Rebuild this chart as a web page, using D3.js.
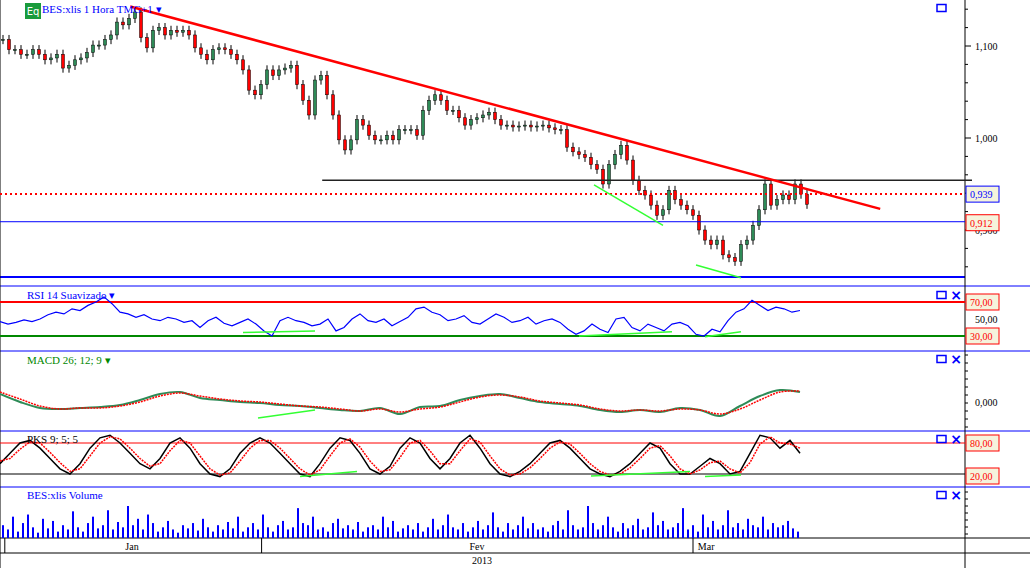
<!DOCTYPE html>
<html><head><meta charset="utf-8">
<script src="https://cdn.jsdelivr.net/npm/d3@7"></script>
<style>body{margin:0;background:#fff}svg{display:block;font-family:"Liberation Serif",serif}</style>
</head><body><div id="chart"></div>
<script>
// closes, one per bar (6px bars)
const closes = [1.107,1.096,1.096,1.091,1.091,1.096,1.091,1.085,1.087,1.091,1.076,1.079,1.085,1.087,1.093,1.101,1.101,1.107,1.112,1.126,1.123,1.130,1.137,1.109,1.098,1.117,1.120,1.112,1.117,1.115,1.117,1.112,1.098,1.091,1.085,1.096,1.098,1.096,1.091,1.085,1.074,1.052,1.047,1.058,1.074,1.068,1.074,1.076,1.079,1.058,1.041,1.025,1.063,1.068,1.047,1.025,0.998,0.987,0.998,1.020,1.014,1.003,0.998,0.998,1.003,0.998,1.009,1.009,1.009,1.003,1.030,1.041,1.047,1.041,1.030,1.030,1.022,1.014,1.020,1.022,1.025,1.028,1.020,1.014,1.014,1.012,1.013,1.014,1.012,1.013,1.014,1.011,1.009,1.009,0.990,0.985,0.982,0.979,0.971,0.966,0.950,0.971,0.982,0.992,0.976,0.954,0.943,0.938,0.927,0.916,0.922,0.943,0.933,0.927,0.922,0.916,0.900,0.889,0.884,0.889,0.873,0.870,0.866,0.884,0.889,0.905,0.922,0.950,0.927,0.933,0.938,0.933,0.950,0.939,0.928];
const rsi = [47,44,46,49,47,50,55,58,56,62,60,66,70,76,68,58,56,52,55,50,48,52,50,46,48,40,48,52,45,42,46,50,44,36,30,48,52,48,46,42,44,50,36,40,50,56,48,46,50,42,47,52,62,64,58,55,48,50,54,46,44,50,56,52,46,48,52,44,48,50,46,38,32,36,44,38,34,50,52,40,36,44,40,36,44,46,42,32,30,38,35,48,58,62,72,66,60,64,62,58,60];
const macd = [8,0,-6,-7,-6,-5,-3,2,8,10,4,2,0,-1,-3,-4,-6,-8,-9,-6,-12,-5,-4,2,6,8,4,0,-2,-4,-8,-10,-8,-10,-6,-8,-14,-4,6,12,10];
const signal = [10,3,-4,-7,-6,-6,-4,0,6,9,6,3,1,0,-2,-4,-5,-7,-9,-7,-10,-7,-5,0,5,7,5,1,-1,-3,-7,-9,-8,-9,-7,-8,-12,-7,2,10,11];
const pksK = [40,60,80,85,70,50,30,20,40,70,90,95,80,60,40,30,50,80,90,70,40,20,15,30,60,80,90,80,60,40,20,15,40,70,90,85,60,30,20,35,70,90,80,50,30,50,80,95,70,40,20,15,25,40,60,80,85,70,50,30,20,15,25,40,60,80,70,40,20,20,35,50,40,20,25,60,95,90,70,85,60];
const pksD = [45,50,68,82,80,62,42,25,30,55,80,92,88,70,50,35,40,65,85,80,55,30,18,22,45,70,85,85,70,50,30,18,28,55,80,88,72,45,25,28,52,80,85,65,40,40,65,88,82,55,30,18,20,32,50,70,82,78,60,40,25,18,20,32,50,70,75,55,30,20,28,42,45,30,22,42,78,92,80,78,70];
const volume = [12,8,20,6,14,22,10,5,18,9,16,6,12,8,25,10,6,14,20,9,12,26,8,15,10,30,12,18,8,22,14,6,10,16,8,5,12,9,14,7,18,10,6,12,8,15,9,20,6,10,14,8,22,10,6,12,16,8,10,28,14,12,20,8,10,6,14,18,9,12,8,15,6,10,12,8,20,10,16,6,9,12,8,14,6,10,18,8,12,22,10,8,14,6,10,16,8,12,24,10,6,14,8,12,20,9,14,8,10,6,12,16,8,26,12,8,10,30,14,8,12,20,10,6,14,9,12,18,8,10,24,12,16,8,10,14,28,8,12,6,22,10,16,8,12,26,10,14,8,18,12,10,20,8,14,10,12,16,9,6];
const dateTicks = [{label:"Jan", x:22, sep:0.8}, {label:"Fev", x:79.5, sep:43.6}, {label:"Mar", x:117.7, sep:115.5}];
const trend = [[21.7,1.143],[146.7,0.923]];
const support = [[53.7,0.954],[162,0.954]];
const priceDivs = [[[99,0.949],[110.5,0.905]],[[116,0.862],[123.5,0.848]]];
const rsiDivs = [[[40.5,34],[52.5,36]],[[96.5,30],[112,35]],[[117.5,29],[123.5,35]]];
const macdDivs = [[[43,-16],[52.5,-8]]];
const pksDivs = [[[50,15],[59.5,25]],[[98.5,16],[115,25]],[[117.5,15],[123.5,18]]];

const W = 1030, H = 568, axisX = 965;
const svg = d3.select("#chart").append("svg").attr("width", W).attr("height", H);
const x = d3.scaleLinear().domain([0, 1]).range([0, 6]); // bar index -> px
const xi = d3.scaleLinear().domain([0, 1]).range([0, 8]); // rsi index
const yP = d3.scaleLinear().domain([0.9, 1.1]).range([230, 46]);
const yR = d3.scaleLinear().domain([30, 70]).range([336, 302]);
const yM = d3.scaleLinear().domain([-20, 20]).range([422, 382]);
const yK = d3.scaleLinear().domain([20, 80]).range([474, 443]);
const yV = d3.scaleLinear().domain([0, 30]).range([538, 506]);
const line = (xs, ys) => d3.line().x(d => xs(d[0])).y(d => ys(d[1]));

// panel borders
[286, 351, 431, 487, 538, 553].forEach(y => svg.append("line").attr("x1", 0).attr("x2", W).attr("y1", y).attr("y2", y)
  .attr("stroke", y >= 538 ? "#000" : "#00f"));
svg.append("line").attr("x1", 0).attr("x2", axisX).attr("y1", 277).attr("y2", 277).attr("stroke", "#00f").attr("stroke-width", 2);
svg.append("line").attr("x1", axisX).attr("x2", axisX).attr("y1", 0).attr("y2", 568).attr("stroke", "#000");
svg.append("line").attr("x1", 0).attr("x2", 0).attr("y1", 0).attr("y2", 568).attr("stroke", "#000");

// price candles
const bars = closes.map((c, i) => {
  const o = i ? closes[i - 1] : c;
  return { i, o, c, h: Math.max(o, c) + 0.005, l: Math.min(o, c) - 0.005 };
});
const g = svg.append("g");
g.selectAll("line.w").data(bars).join("line").attr("x1", d => x(d.i) + 3).attr("x2", d => x(d.i) + 3)
  .attr("y1", d => yP(d.h)).attr("y2", d => yP(d.l)).attr("stroke", "#000");
g.selectAll("rect").data(bars).join("rect").attr("x", d => x(d.i) + 1.5).attr("width", 3)
  .attr("y", d => yP(Math.max(d.o, d.c))).attr("height", d => Math.max(1, Math.abs(yP(d.o) - yP(d.c))))
  .attr("fill", d => d.c >= d.o ? "#2e8b57" : "#f00").attr("stroke", "#000").attr("stroke-width", 0.5);

svg.append("line").attr("x1", 0).attr("x2", axisX).attr("y1", yP(0.909)).attr("y2", yP(0.909)).attr("stroke", "#00f");
svg.append("line").attr("x1", 0).attr("x2", axisX).attr("y1", yP(0.939)).attr("y2", yP(0.939)).attr("stroke", "#f00").attr("stroke-width", 2).attr("stroke-dasharray", "2,3");
svg.append("path").attr("d", line(x, yP)(support)).attr("stroke", "#222").attr("stroke-width", 1.5).attr("fill", "none");
svg.append("path").attr("d", line(x, yP)(trend)).attr("stroke", "#f00").attr("stroke-width", 2.5).attr("fill", "none");
priceDivs.forEach(d => svg.append("path").attr("d", line(x, yP)(d)).attr("stroke", "#3f3").attr("stroke-width", 1.5));

// RSI
svg.append("line").attr("x1", 0).attr("x2", axisX).attr("y1", yR(70)).attr("y2", yR(70)).attr("stroke", "#f00").attr("stroke-width", 2);
svg.append("line").attr("x1", 0).attr("x2", axisX).attr("y1", yR(30)).attr("y2", yR(30)).attr("stroke", "#080").attr("stroke-width", 2);
svg.append("path").datum(rsi.map((v, i) => [i, v])).attr("d", line(xi, yR)).attr("stroke", "#00f").attr("stroke-width", 1.2).attr("fill", "none");
rsiDivs.forEach(d => svg.append("path").attr("d", line(x, yR)(d)).attr("stroke", "#3f3").attr("stroke-width", 1.5));

// MACD
const xm = d3.scaleLinear().domain([0, 1]).range([0, 20]);
svg.append("path").datum(macd.map((v, i) => [i, v])).attr("d", line(xm, yM).curve(d3.curveCatmullRom)).attr("stroke", "#2e8b57").attr("stroke-width", 2).attr("fill", "none");
svg.append("path").datum(signal.map((v, i) => [i, v])).attr("d", line(xm, yM).curve(d3.curveCatmullRom)).attr("stroke", "#f00").attr("stroke-width", 1.5).attr("stroke-dasharray", "2,1").attr("fill", "none");
macdDivs.forEach(d => svg.append("path").attr("d", line(x, yM)(d)).attr("stroke", "#3f3").attr("stroke-width", 1.5));

// PKS
const xk = d3.scaleLinear().domain([0, 1]).range([0, 10]);
[80, 20].forEach(v => svg.append("line").attr("x1", 0).attr("x2", axisX).attr("y1", yK(v)).attr("y2", yK(v)).attr("stroke", v == 80 ? "#f00" : "#000"));
svg.append("path").datum(pksK.map((v, i) => [i, v])).attr("d", line(xk, yK)).attr("stroke", "#000").attr("stroke-width", 1.5).attr("fill", "none");
svg.append("path").datum(pksD.map((v, i) => [i, v])).attr("d", line(xk, yK)).attr("stroke", "#f00").attr("stroke-width", 1.5).attr("stroke-dasharray", "2,1").attr("fill", "none");
pksDivs.forEach(d => svg.append("path").attr("d", line(x, yK)(d)).attr("stroke", "#3f3").attr("stroke-width", 1.5));

// volume
const xv = d3.scaleLinear().domain([0, 1]).range([2, 7]);
svg.append("g").attr("fill", "#00f").selectAll("rect").data(volume).join("rect")
  .attr("x", (d, i) => xv(i)).attr("width", 2).attr("y", d => yV(d)).attr("height", d => yV(0) - yV(d));

// date axis
dateTicks.forEach(t => {
  svg.append("text").attr("x", x(t.x)).attr("y", 550).attr("font-size", 10).attr("text-anchor", "middle").text(t.label);
  svg.append("line").attr("x1", x(t.sep)).attr("x2", x(t.sep)).attr("y1", 538).attr("y2", 553).attr("stroke", "#000");
});
svg.append("text").attr("x", 482).attr("y", 564).attr("font-size", 10).attr("text-anchor", "middle").text("2013");

// right axis
const ax = svg.append("g").attr("font-size", 10);
const tick = (y, len) => ax.append("line").attr("x1", axisX).attr("x2", axisX + len).attr("y1", y).attr("y2", y).attr("stroke", "#000");
d3.range(0.86, 1.15, 0.02).forEach(v => { if (yP(v) > 0 && yP(v) < 284) tick(yP(v), Math.abs(v * 10 - Math.round(v * 10)) < 0.01 ? 6 : 3); });
[1.1, 1.0, 0.9].forEach(v => ax.append("text").attr("x", 975).attr("y", yP(v) + 4).text(d3.format(".3f")(v).replace(".", ",")));
ax.append("text").attr("x", 975).attr("y", yR(50) + 4).text("50,00");
ax.append("text").attr("x", 975).attr("y", yM(0) + 4).text("0,000");
d3.range(355, 431, 8).forEach(y => tick(y, 3));
d3.range(492, 538, 7).forEach(y => tick(y, 3));
const box = (y, txt, col) => {
  ax.append("rect").attr("x", 966).attr("y", y - 8).attr("width", 33).attr("height", 16).attr("fill", "#f5f3dc").attr("stroke", col);
  ax.append("text").attr("x", 970).attr("y", y + 4).attr("fill", col).text(txt);
};
box(yP(0.939), "0,939", "#00f"); box(yP(0.909) + 1, "0,912", "#f00");
box(yR(70), "70,00", "#f00"); box(yR(30), "30,00", "#f00");
box(yK(80), "80,00", "#f00"); box(yK(20) + 2, "20,00", "#f00");

// headers
const hdr = [[13, "BES:xlis 1 Hora TMG+1 \u25BE", 42, "#00f"], [299, "RSI 14 Suavizado \u25BE", 27, "#00f"], [364, "MACD 26; 12; 9 \u25BE", 27, "#080"], [443, "PKS 9; 5; 5", 27, "#000"], [499, "BES:xlis Volume", 27, "#00f"]];
hdr.forEach(([y, t, xx, c]) => svg.append("text").attr("x", xx).attr("y", y).attr("font-size", 11).attr("fill", c).text(t));
svg.append("rect").attr("x", 25).attr("y", 3).attr("width", 16).attr("height", 16).attr("fill", "#1a9b3c");
svg.append("text").attr("x", 33).attr("y", 15).attr("font-size", 10).attr("fill", "#fff").attr("text-anchor", "middle").attr("font-family", "DejaVu Sans").text("Eq");
[[8, false], [295, true], [359, true], [439, true], [495, true]].forEach(([y, x2]) => {
  svg.append("rect").attr("x", 937).attr("y", y - 3.5).attr("width", 9).attr("height", 7).attr("fill", "none").attr("stroke", "#00f").attr("stroke-width", 1.5);
  if (x2) svg.append("text").attr("x", 956).attr("y", y + 5).attr("font-size", 14).attr("font-weight", "bold").attr("fill", "#00f").attr("text-anchor", "middle").attr("font-family", "DejaVu Sans").text("\u00D7");
});
</script></body></html>
